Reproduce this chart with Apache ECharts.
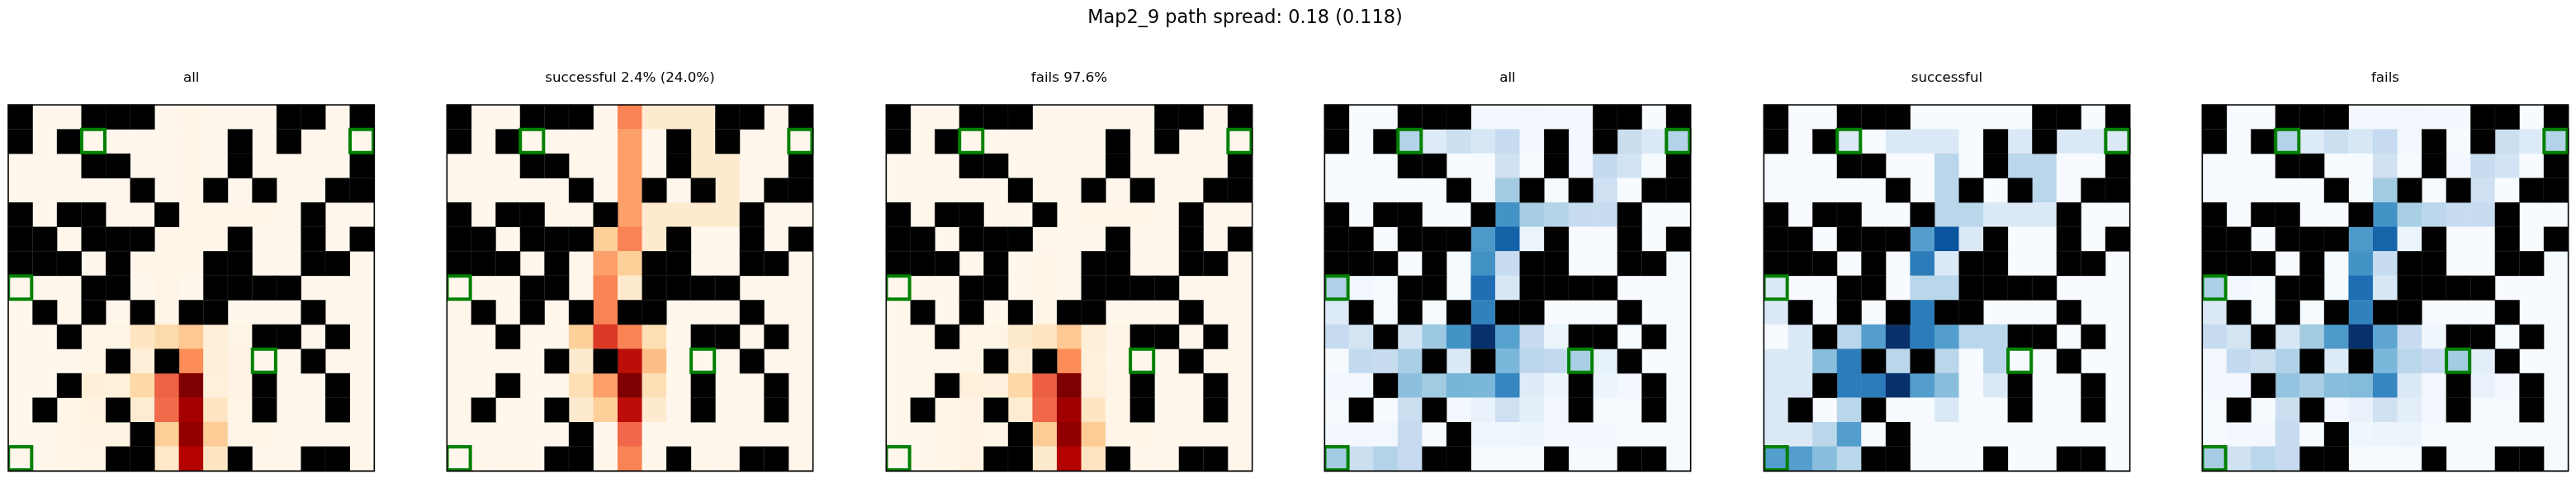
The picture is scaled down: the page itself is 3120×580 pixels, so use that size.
<!DOCTYPE html>
<html>
<head>
<meta charset="utf-8">
<style>html,body{margin:0;padding:0;background:#fff}#c{width:3120px;height:580px}</style>
<script src="https://cdn.jsdelivr.net/npm/echarts@6/dist/echarts.min.js"></script>
</head>
<body>
<div id="c"></div>
<script>
const mainTitle = "Map2_9 path spread: 0.18 (0.118)";
const panelTitles = ["all", "successful 2.4% (24.0%)", "fails 97.6%", "all", "successful", "fails"];
const wallRows = [
  [0,3,4,5,11,12,14],[0,2,9,11],[3,4,9,14],[5,8,10,13,14],[0,2,3,6,12],
  [0,1,3,4,5,9,12,14],[0,1,2,4,8,9,12,13],[3,4,8,9,10,11],[1,3,5,7,8,12],[2,10,11,13],
  [4,6,12],[2,10,13],[1,4,10,13],[5],[4,5,9,12,13]
];
const targets = [[3,1],[14,1],[0,7],[10,10],[0,14]];
const orRd = ["#fff7ec","#fee8c8","#fdd49e","#fdbb84","#fc8d59","#ef6548","#d7301f","#b30000","#7f0000"];
const blues = ["#f7fbff","#deebf7","#c6dbef","#9ecae1","#6baed6","#4292c6","#2171b5","#08519c","#08306b"];

const allRed = [
  [0,0,0,0,0,0,0,1,0,0,0,0,0,0,0],
  [0,0,0,0,0,0,0,1,0,0,0,0,0,0,0],
  [0,0,0,0,0,0,0,1,0,0,0,0,0,0,0],
  [0,0,0,0,0,0,0,1,0,0,0,0,0,0,0],
  [0,0,0,0,0,0,0,1,1,1,1,0,0,0,0],
  [0,0,0,0,0,0,1,1,1,0,0,0,0,0,0],
  [0,0,0,0,0,1,1,1,0,0,0,0,0,0,0],
  [0,0,0,0,0,0,2,0,0,0,0,0,0,0,0],
  [0,0,0,0,0,0,2,0,0,0,0,0,0,0,0],
  [0,0,0,1,2,14,21,31,7,2,0,0,0,0,0],
  [0,0,0,1,0,7,0,50,7,3,0,0,0,0,0],
  [0,0,0,7,6,22,63,100,6,3,0,0,0,0,0],
  [0,0,1,4,0,9,61,91,15,2,0,0,0,0,0],
  [0,0,1,3,3,0,27,95,29,2,1,0,0,0,0],
  [0,0,1,2,0,0,12,87,14,0,0,0,0,0,0]
];
const successRed = [
  [0,0,0,0,0,0,0,53,10,10,10,0,0,0,0],
  [0,0,0,0,0,0,0,45,0,0,10,0,0,0,0],
  [0,0,0,0,0,0,0,45,0,0,10,10,0,0,0],
  [0,0,0,0,0,0,0,45,0,0,0,10,0,0,0],
  [0,0,0,0,0,0,0,45,10,10,10,10,0,0,0],
  [0,0,0,0,0,0,27,53,10,0,0,0,0,0,0],
  [0,0,0,0,0,0,45,27,0,0,0,0,0,0,0],
  [0,0,0,0,0,0,53,10,0,0,0,0,0,0,0],
  [0,0,0,0,0,0,53,0,0,0,0,0,0,0,0],
  [0,0,0,0,0,27,73,53,18,0,0,0,0,0,0],
  [0,0,0,0,0,10,0,84,36,0,0,0,0,0,0],
  [0,0,0,0,0,18,45,100,18,0,0,0,0,0,0],
  [0,0,0,0,0,10,27,84,10,0,0,0,0,0,0],
  [0,0,0,0,0,0,0,62,0,0,0,0,0,0,0],
  [0,0,0,0,0,0,0,53,0,0,0,0,0,0,0]
];
const failRed = [
  [0,0,0,0,0,0,0,0,0,0,0,0,0,0,0],
  [0,0,0,0,0,0,0,0,0,0,0,0,0,0,0],
  [0,0,0,0,0,0,0,0,0,0,0,0,0,0,0],
  [0,0,0,0,0,0,0,0,0,0,0,0,0,0,0],
  [0,0,0,0,0,0,0,0,1,1,1,0,0,0,0],
  [0,0,0,0,0,0,0,0,0,0,0,0,0,0,0],
  [0,0,0,0,0,0,1,0,0,0,0,0,0,0,0],
  [0,0,0,0,0,0,1,0,0,0,0,0,0,0,0],
  [0,0,0,0,0,0,2,0,0,0,0,0,0,0,0],
  [0,0,0,1,2,11,15,31,7,2,0,0,0,0,0],
  [0,0,0,2,0,7,0,50,6,1,0,0,0,0,0],
  [0,0,0,6,5,22,64,100,6,2,0,0,0,0,0],
  [0,0,1,3,0,9,62,92,14,1,0,0,0,0,0],
  [0,0,1,3,2,0,29,96,29,1,1,0,0,0,0],
  [0,0,1,3,0,0,11,87,15,0,0,0,0,0,0]
];
const allBlue = [
  [0,0,0,0,0,0,2,2,3,2,2,0,0,0,0],
  [0,0,0,31,12,22,16,25,2,0,2,0,23,14,31],
  [0,0,0,0,0,0,0,20,1,0,3,26,19,1,0],
  [0,0,0,0,0,0,1,36,0,1,0,21,0,0,0],
  [0,0,0,0,0,0,0,62,35,30,25,24,0,0,0],
  [0,0,0,0,0,0,59,81,6,0,0,0,0,0,0],
  [0,0,0,0,0,1,63,24,0,0,0,0,0,0,1],
  [32,2,1,0,0,1,76,16,0,0,0,0,0,0,1],
  [13,0,1,0,1,0,69,0,0,0,0,0,0,0,1],
  [25,18,0,17,38,62,100,56,25,6,0,0,1,0,1],
  [1,26,24,34,0,14,0,46,28,26,34,8,0,0,1],
  [2,2,0,42,37,47,46,67,12,5,0,5,2,0,1],
  [1,0,0,22,0,2,7,21,9,3,0,1,1,0,1],
  [2,2,3,25,1,0,4,4,5,3,2,2,1,1,1],
  [36,22,31,25,0,0,1,1,1,0,1,1,0,0,1]
];
const successBlue = [
  [0,0,0,0,0,0,0,0,0,0,0,0,0,0,0],
  [0,0,0,14,0,14,14,14,0,0,14,0,14,14,14],
  [0,0,0,0,0,0,0,29,0,0,29,29,0,0,0],
  [0,0,0,0,0,0,0,29,0,0,0,29,0,0,0],
  [0,0,0,0,0,0,0,29,29,14,14,14,0,0,0],
  [0,0,0,0,0,0,57,86,14,0,0,0,0,0,0],
  [0,0,0,0,0,0,71,14,0,0,0,0,0,0,0],
  [14,0,0,0,0,0,29,29,0,0,0,0,0,0,0],
  [14,0,0,0,0,0,71,0,0,0,0,0,0,0,0],
  [0,14,0,29,57,100,71,57,29,29,0,0,0,0,0],
  [14,14,43,71,0,29,0,29,0,29,0,0,0,0,0],
  [14,14,0,71,71,100,57,43,0,14,0,0,0,0,0],
  [14,0,0,29,0,0,0,14,0,0,0,0,0,0,0],
  [14,14,29,57,0,0,0,0,0,0,0,0,0,0,0],
  [57,57,43,29,0,0,0,0,0,0,0,0,0,0,0]
];
const failBlue = [
  [0,0,0,0,0,0,2,2,3,2,2,0,0,0,0],
  [0,0,0,31,13,22,16,25,2,0,1,0,22,13,31],
  [0,0,0,0,0,0,0,20,1,0,2,24,19,0,0],
  [0,0,0,0,0,0,1,36,0,1,0,21,0,0,0],
  [0,0,0,0,0,0,0,62,34,28,24,24,0,0,0],
  [0,0,0,0,0,0,59,80,6,0,0,0,0,0,0],
  [0,0,0,0,0,1,62,24,0,0,0,0,0,0,1],
  [33,2,1,0,0,1,76,16,0,0,0,0,0,0,1],
  [14,0,1,0,1,0,69,0,0,0,0,0,0,0,1],
  [25,18,0,16,36,59,100,54,25,4,0,0,1,0,1],
  [2,26,22,32,0,13,0,46,29,25,36,10,0,0,1],
  [2,2,0,40,34,43,44,67,14,3,0,7,2,0,1],
  [1,0,1,22,0,2,7,20,10,2,0,1,1,0,1],
  [1,2,2,25,1,0,4,5,6,1,1,1,1,1,1],
  [35,20,29,25,0,0,1,1,1,0,1,1,0,0,1]
];

const panelValues = [allRed, successRed, failRed, allBlue, successBlue, failBlue];
const panelScales = [orRd, orRd, orRd, blues, blues, blues];

const lefts = [10, 541.33, 1073.33, 1604.33, 2136.33, 2667.33];
const gridTop = 127, gridSize = 443.33;
const cells = Array.from({length: 15}, (_, i) => i);

const wallData = [];
wallRows.forEach((cols, r) => cols.forEach(c => wallData.push([c, r, 1])));
const isWall = (c, r) => wallRows[r].includes(c);

const grid = [], xAxis = [], yAxis = [], series = [], visualMap = [], title = [], graphic = [];
title.push({text: mainTitle, left: 1503, top: 6, textAlign: "center",
  textStyle: {fontFamily: "DejaVu Sans", fontSize: 22.4, fontWeight: "normal", color: "#000"}});

lefts.forEach((left, i) => {
  grid.push({left, top: gridTop, width: gridSize, height: gridSize, show: false});
  const axisBase = {type: "category", data: cells, gridIndex: i, axisLine: {show: false},
    axisTick: {show: false}, axisLabel: {show: false}, splitLine: {show: false}};
  xAxis.push({...axisBase});
  yAxis.push({...axisBase, inverse: true});
  title.push({text: panelTitles[i], left: left + gridSize / 2 - 5, top: 81, textAlign: "center",
    textStyle: {fontFamily: "DejaVu Sans", fontSize: 16.7, fontWeight: "normal", color: "#000"}});
  const data = [];
  panelValues[i].forEach((row, r) => row.forEach((v, c) => { if (!isWall(c, r)) data.push([c, r, v]); }));
  const sIdx = series.length;
  series.push({type: "heatmap", xAxisIndex: i, yAxisIndex: i, data, silent: true, animation: false,
    progressive: 0, itemStyle: {borderWidth: 0}});
  visualMap.push({show: false, seriesIndex: sIdx, min: 0, max: 100, dimension: 2,
    inRange: {color: panelScales[i]}});
  series.push({type: "heatmap", xAxisIndex: i, yAxisIndex: i, data: wallData, silent: true, animation: false,
    itemStyle: {color: "#000", borderWidth: 0.4, borderColor: "rgba(205,205,205,0.25)"}});
  series.push({type: "custom", xAxisIndex: i, yAxisIndex: i, data: targets, silent: true, animation: false,
    clip: true, z: 5, encode: {x: 0, y: 1},
    renderItem: (params, api) => {
      const p = api.coord([api.value(0), api.value(1)]);
      const s = api.size([1, 1]);
      const w = s[0] * 0.95, h = s[1] * 0.95;
      return {type: "rect", shape: {x: p[0] - w / 2 - 0.5, y: p[1] - h / 2 - 0.5, width: w, height: h},
        style: {fill: "none", stroke: "#008000", lineWidth: 4}};
    }});
  graphic.push({type: "rect", z: 100, silent: true,
    shape: {x: left, y: gridTop, width: gridSize, height: gridSize},
    style: {fill: "none", stroke: "#000", lineWidth: 1.6}});
});

const chart = echarts.init(document.getElementById("c"), null, {renderer: "canvas"});
chart.setOption({animation: false, backgroundColor: "#fff", title, grid, xAxis, yAxis, visualMap, series, graphic});
</script>
</body>
</html>
